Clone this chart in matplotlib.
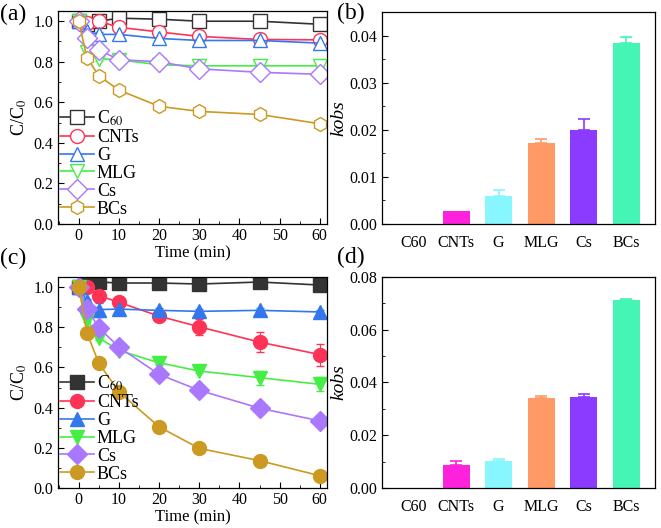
import matplotlib
matplotlib.use('Agg')
import matplotlib.pyplot as plt
from matplotlib.ticker import MultipleLocator, FormatStrFormatter
from matplotlib.lines import Line2D
import numpy as np

plt.rcParams['font.family'] = ['Liberation Serif', 'DejaVu Serif']
plt.rcParams['mathtext.fontset'] = 'stix'
plt.rcParams['font.size'] = 11

# --- data ---
time = [0, 2, 5, 10, 20, 30, 45, 60]
series = ['C$_{60}$', 'CNTs', 'G', 'MLG', 'Cs', 'BCs']

# panel (a)
a_vals = {
    'C60':  [1.00, 0.988, 1.00, 1.015, 1.01, 1.00, 1.00, 0.985],
    'CNTs': [1.00, 0.99, 1.00, 0.97, 0.947, 0.925, 0.91, 0.908],
    'G':    [1.00, 0.95, 0.935, 0.935, 0.915, 0.905, 0.905, 0.892],
    'MLG':  [1.00, 0.85, 0.815, 0.81, 0.785, 0.78, 0.78, 0.78],
    'Cs':   [1.00, 0.918, 0.858, 0.81, 0.80, 0.765, 0.748, 0.738],
    'BCs':  [1.00, 0.82, 0.73, 0.66, 0.58, 0.555, 0.54, 0.494],
}
a_err = {
    'C60':  [0, 0.005, 0.005, 0.005, 0.01, 0.005, 0.005, 0.005],
    'CNTs': [0, 0.005, 0.005, 0.01, 0.01, 0.01, 0.01, 0.01],
    'G':    [0, 0.01, 0.01, 0.01, 0.01, 0.01, 0.01, 0.01],
    'MLG':  [0, 0.01, 0.01, 0.01, 0.015, 0.01, 0.01, 0.01],
    'Cs':   [0, 0.01, 0.01, 0.01, 0.01, 0.015, 0.015, 0.01],
    'BCs':  [0, 0.01, 0.01, 0.01, 0.015, 0.01, 0.01, 0.01],
}

# panel (c)
c_vals = {
    'C60':  [1.00, 1.03, 1.025, 1.02, 1.02, 1.015, 1.025, 1.01],
    'CNTs': [1.00, 1.00, 0.957, 0.924, 0.855, 0.802, 0.726, 0.664],
    'G':    [1.00, 0.93, 0.888, 0.89, 0.884, 0.879, 0.884, 0.876],
    'MLG':  [1.00, 0.838, 0.747, 0.684, 0.623, 0.582, 0.549, 0.516],
    'Cs':   [1.00, 0.893, 0.797, 0.701, 0.565, 0.486, 0.397, 0.334],
    'BCs':  [1.00, 0.772, 0.62, 0.478, 0.304, 0.197, 0.136, 0.061],
}
c_err = {
    'C60':  [0, 0.005, 0.005, 0.005, 0.005, 0.005, 0.005, 0.005],
    'CNTs': [0, 0.01, 0.01, 0.01, 0.015, 0.04, 0.05, 0.055],
    'G':    [0, 0.01, 0.035, 0.01, 0.01, 0.01, 0.01, 0.01],
    'MLG':  [0, 0.01, 0.01, 0.01, 0.01, 0.01, 0.035, 0.035],
    'Cs':   [0, 0.01, 0.01, 0.01, 0.01, 0.01, 0.01, 0.01],
    'BCs':  [0, 0.01, 0.01, 0.01, 0.01, 0.01, 0.01, 0.01],
}

bar_labels = ['C60', 'CNTs', 'G', 'MLG', 'Cs', 'BCs']
b_kobs = [0.0, 0.0027, 0.0059, 0.0172, 0.0200, 0.0385]
b_err  = [0.0, 0.0, 0.0013, 0.0008, 0.0023, 0.0012]
d_kobs = [0.0, 0.0087, 0.0102, 0.0342, 0.0344, 0.0712]
d_err  = [0.0, 0.0017, 0.0006, 0.0008, 0.0011, 0.0006]

keys = ['C60', 'CNTs', 'G', 'MLG', 'Cs', 'BCs']
line_colors = ['#333333', '#FF3355', '#3377EE', '#44EE44', '#AA77FF', '#CC9922']
markers = ['s', 'o', '^', 'v', 'D', 'h']
c_markers = ['s', 'o', '^', 'v', 'D', 'o']
bar_colors = ['#FFFFFF', '#FF22DD', '#88F6FF', '#FF9966', '#8A3BFF', '#44F5B5']

fig = plt.figure(figsize=(6.61, 5.28), dpi=100)
ax_a = fig.add_axes([0.0877, 0.576, 0.407, 0.403])
ax_b = fig.add_axes([0.5775, 0.576, 0.4135, 0.401])
ax_c = fig.add_axes([0.0877, 0.0758, 0.407, 0.3996])
ax_d = fig.add_axes([0.5775, 0.0758, 0.4135, 0.3996])


def style(ax):
    ax.tick_params(which='both', direction='in', top=False, right=False, labelsize=11.5)
    ax.tick_params(which='major', length=4)
    ax.tick_params(which='minor', length=2)
    for s in ax.spines.values():
        s.set_linewidth(0.9)


def line_panel(ax, vals, errs, mk, filled):
    handles = []
    for k, lab, col, m in zip(keys, series, line_colors, mk):
        face = col if filled else 'white'
        ax.errorbar(time, vals[k], yerr=errs[k], color=col, marker=m, markersize=10,
                    markerfacecolor=face, markeredgecolor=col,
                    markeredgewidth=1.0, linewidth=1.2, capsize=3, elinewidth=0.8)
        handles.append(Line2D([], [], color=col, marker=m, markersize=10,
                              markerfacecolor=face, markeredgecolor=col,
                              markeredgewidth=1.0, linewidth=1.2, label=lab))
    ax.set_xlim(-5.2, 61.8)
    ax.set_ylim(0, 1.05)
    ax.xaxis.set_major_locator(MultipleLocator(10))
    ax.xaxis.set_minor_locator(MultipleLocator(5))
    ax.yaxis.set_major_locator(MultipleLocator(0.2))
    ax.yaxis.set_minor_locator(MultipleLocator(0.1))
    ax.set_xlabel('Time (min)', fontsize=12, labelpad=1)
    ax.set_ylabel('C/C$_0$', fontsize=13, labelpad=3)
    ax.legend(handles=handles, loc='upper left', bbox_to_anchor=(0.0, 0.55), frameon=False,
              fontsize=13, handlelength=1.9, labelspacing=0.05, borderaxespad=0,
              borderpad=0.1, handletextpad=0.15)
    style(ax)
    ax.tick_params(axis='x', pad=3)


def bar_panel(ax, vals, errs, ymax, major, minor):
    x = np.arange(len(bar_labels))
    for xi, v, e, c in zip(x, vals, errs, bar_colors):
        if v <= 0:
            continue
        ax.bar(xi, v, width=0.64, color=c, edgecolor='none')
        if e > 0:
            ax.errorbar(xi, v, yerr=[[0], [e]], color=c, capsize=4, elinewidth=1.2,
                        capthick=1.2, fmt='none')
    ax.set_xlim(-0.75, 5.68)
    ax.set_ylim(0, ymax)
    ax.set_xticks(x)
    ax.set_xticklabels(bar_labels)
    ax.yaxis.set_major_locator(MultipleLocator(major))
    ax.yaxis.set_minor_locator(MultipleLocator(minor))
    ax.yaxis.set_major_formatter(FormatStrFormatter('%.2f'))
    ax.set_ylabel('kobs', fontsize=14, style='italic', labelpad=1)
    style(ax)
    ax.tick_params(axis='x', which='both', length=0, pad=8)


line_panel(ax_a, a_vals, a_err, markers, False)
line_panel(ax_c, c_vals, c_err, c_markers, True)
bar_panel(ax_b, b_kobs, b_err, 0.045, 0.01, 0.005)
bar_panel(ax_d, d_kobs, d_err, 0.08, 0.02, 0.01)

for lab, x, y in [('(a)', 0.0, 0.972), ('(b)', 0.51, 0.975),
                  ('(c)', 0.0, 0.511), ('(d)', 0.51, 0.513)]:
    fig.text(x, y, lab, fontsize=17, va='center', ha='left')

fig.savefig('out.png', dpi=100)
